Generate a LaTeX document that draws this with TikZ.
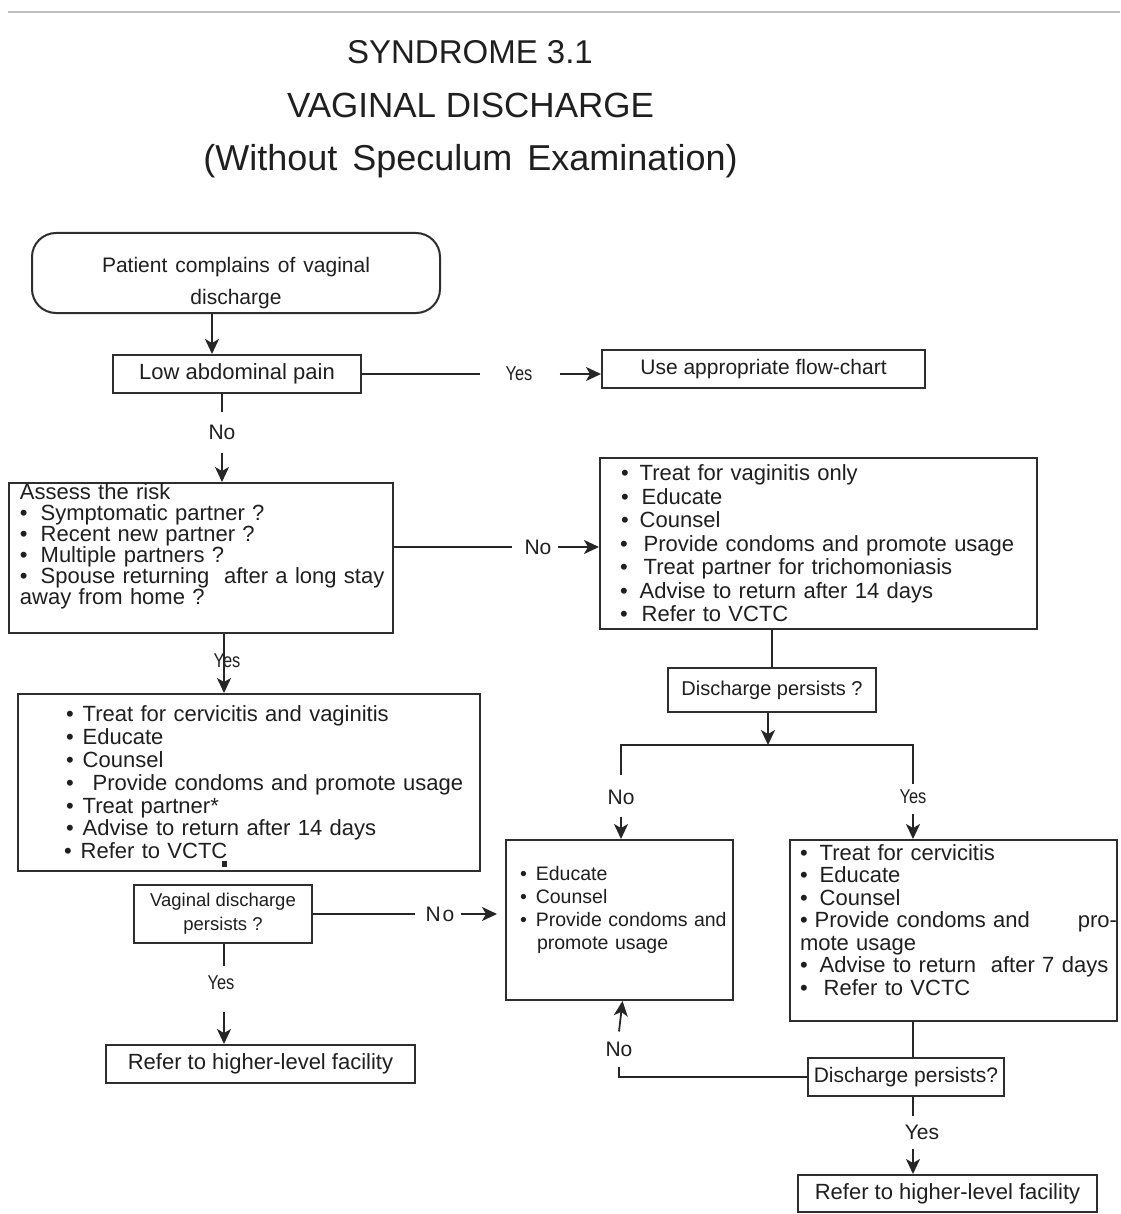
\documentclass[tikz,border=0pt]{standalone}
\usepackage{fontspec}
\setmainfont{Liberation Sans}
\newfontfamily\condf[FakeStretch=0.82]{Liberation Sans}
\usetikzlibrary{arrows.meta,calc}
\newcommand\fsz[2]{\fontsize{#1pt}{#2pt}\selectfont}
\newcommand\bi[2]{\hspace*{#1pt}\textbullet\hspace*{#2pt}}
\begin{document}
\begin{tikzpicture}[x=1pt,y=-1pt,
  box/.style={draw=black!82, line width=2pt, inner sep=0pt, align=center, text=black!88},
  listbox/.style={box, align=left},
  lbl/.style={inner sep=0pt, text=black!88, font=\fsz{21}{23}},
  clbl/.style={inner sep=0pt, text=black!88, font=\condf\fsz{20}{22}},
  conn/.style={draw=black!85, line width=1.8pt},
  arr/.style={conn, -{Stealth[length=15pt,width=14pt,inset=4pt]}}]
\fill[white] (0,0) rectangle (1120,1214);
\useasboundingbox (0,0) rectangle (1120,1214);
\draw[black!25, line width=1.5pt] (8,12) -- (1120,12);

% titles
\node[text=black!88, font=\fsz{33}{36}] (title1) at (470,52) {SYNDROME 3.1};
\node[text=black!88, font=\fsz{35}{38}] (title2) at (470.5,105) {VAGINAL DISCHARGE};
\node[text=black!88, font=\fsz{36}{38}] (title3) at (470.5,161) {\spaceskip=15pt plus 2pt(Without Speculum Examination)};

% boxes
\node[box, rounded corners=24pt, minimum width=408pt, minimum height=80pt, font=\fsz{21}{32}]
  (patient) at (236,273) {\rule{0pt}{36pt}\spaceskip=8pt Patient complains of vaginal\\discharge};
\node[box, minimum width=248pt, minimum height=38pt, font=\fsz{22}{24}]
  (lap) at (237,374) {Low abdominal pain};
\node[box, minimum width=323pt, minimum height=38pt, font=\fsz{21}{24}]
  (useflow) at (763.5,369) {Use appropriate flow-chart};

\node[listbox, text width=384pt, minimum height=150pt, font=\fsz{22}{21}]
  (assess) at (201,558) {%
  \hspace*{11pt}Assess the risk\\
  \bi{11}{13}Symptomatic partner ?\\
  \bi{11}{13}Recent new partner ?\\
  \bi{11}{13}Multiple partners ?\\
  \bi{11}{13}Spouse returning \ after a long stay\\
  \hspace*{11pt}away from home ?\par\vspace*{24pt}};

\node[listbox, text width=437pt, minimum height=171pt, font=\fsz{22}{23.5}]
  (vagin) at (818.5,543.5) {%
  \bi{21}{11}Treat for vaginitis only\\
  \bi{21}{13}Educate\\
  \bi{21}{11}Counsel\\
  \bi{20}{16}Provide condoms and promote usage\\
  \bi{20}{16}Treat partner for trichomoniasis\\
  \bi{20}{12}Advise to return after 14 days\\
  \bi{20}{14}Refer to VCTC};

\node[box, minimum width=208pt, minimum height=44pt, font=\fsz{20}{23}]
  (dp1) at (772,690) {Discharge persists ?};

\node[listbox, text width=462pt, minimum height=177pt, font=\fsz{22}{22.8}]
  (cervvag) at (249,782.5) {%
  \bi{48}{9}Treat for cervicitis and vaginitis\\
  \bi{48}{9}Educate\\
  \bi{48}{9}Counsel\\
  \bi{48}{19}Provide condoms and promote usage\\
  \bi{48}{9}Treat partner*\\
  \bi{48}{9}Advise to return after 14 days\\
  \bi{46}{9}Refer to VCTC};

\node[box, minimum width=178pt, minimum height=58pt, font=\fsz{18.5}{24}]
  (vdp) at (223,914) {Vaginal discharge\\persists ?};

\node[box, minimum width=309pt, minimum height=38pt, font=\fsz{22}{24}]
  (refer1) at (260.5,1064) {Refer to higher-level facility};

\node[listbox, text width=227pt, minimum height=160pt, font=\fsz{19.5}{23}]
  (educ) at (619.5,920) {%
  \bi{14}{9}Educate\\
  \bi{14}{9}Counsel\\
  \bi{14}{9}Provide condoms and\\
  \hspace*{31pt}promote usage\par\vspace*{20pt}};

\node[listbox, text width=327pt, minimum height=181pt, font=\fsz{22}{22.5}]
  (cerv) at (953.5,930.5) {%
  \bi{10}{12}Treat for cervicitis\\
  \bi{10}{12}Educate\\
  \bi{10}{12}Counsel\\
  \bi{10}{7}Provide condoms and\hfill pro-\hspace*{4pt}\\
  \hspace*{10pt}mote usage\\
  \bi{10}{12}Advise to return \ after 7 days\\
  \bi{10}{16}Refer to VCTC\par\vspace*{21pt}};

\node[box, minimum width=196pt, minimum height=38pt, font=\fsz{21}{23}]
  (dp2) at (906,1077) {Discharge persists?};

\node[box, minimum width=299pt, minimum height=37pt, font=\fsz{22}{24}]
  (refer2) at (947.5,1193.5) {Refer to higher-level facility};

% labels
\node[clbl] (yes1) at (519,374) {Yes};
\node[lbl] (no1) at (222,432) {No};
\node[lbl] (no2) at (538,547) {No};
\node[clbl] (yes2) at (227,661) {Yes};
\node[lbl] (no3) at (621,797) {No};
\node[clbl] (yes3) at (913,797) {Yes};
\node[lbl] (no4) at (619,1049) {No};
\node[lbl] (yes4) at (922,1132) {Yes};
\node[lbl] (no5) at (440,914) {N\hspace{2pt}o};
\node[clbl] (yes5) at (221,983) {Yes};

\coordinate (split) at (768,745);
\coordinate (colL) at (224,0);
\coordinate (colR) at (913,0);

% connectors
\draw[arr] ([xshift=-24pt]patient.south) -- ([xshift=-25pt]lap.north);
\draw[conn] (lap.east) -- ([xshift=-25pt]yes1.west);
\draw[arr] ([xshift=27pt]yes1.east) -- (useflow.west |- yes1);
\draw[conn] ([xshift=-15pt]lap.south) -- ($(no1.north)+(0,-12)$);
\draw[arr] ($(no1.south)+(0,13)$) -- (assess.north -| no1);
\draw[conn] (assess.east |- no2) -- ([xshift=-12pt]no2.west);
\draw[arr] ([xshift=6pt]no2.east) -- (vagin.west |- no2);
\draw[conn] (dp1.north |- vagin.south) -- (dp1.north);
\draw[arr] (dp1.south -| split) -- (split);
\draw[conn] ($(no3.north)+(0,-14)$) -- (no3 |- split) -- (yes3 |- split) -- ($(yes3.north)+(0,-6)$);
\draw[arr] ($(no3.south)+(0,12)$) -- (educ.north -| no3);
\draw[arr] ($(colR |- yes3.south)+(0,10)$) -- (colR |- cerv.north);
\draw[conn] (colR |- cerv.south) -- (colR |- dp2.north);
\draw[conn] (dp2.west) -| ($(no4.south)+(0,10)$);
\draw[arr] ($(no4.north)+(0,-10)$) -- ([xshift=3pt]educ.south);
\draw[conn] (colR |- dp2.south) -- ($(colR |- yes4.north)+(0,-8)$);
\draw[arr] ($(colR |- yes4.south)+(0,9)$) -- (colR |- refer2.north);
\draw[arr] (colL |- assess.south) -- (colL |- cervvag.north);
\fill[black!85] (221.5,860.5) rectangle (226.5,866.5);
\draw[conn] (vdp.east) -- ([xshift=-10pt]no5.west);
\draw[arr] ([xshift=6pt]no5.east) -- ($(educ.west |- no5)+(-8,0)$);
\draw[conn] (colL |- vdp.south) -- ($(colL |- yes5.north)+(0,-10)$);
\draw[arr] ($(colL |- yes5.south)+(0,22)$) -- (colL |- refer1.north);
\end{tikzpicture}
\end{document}
